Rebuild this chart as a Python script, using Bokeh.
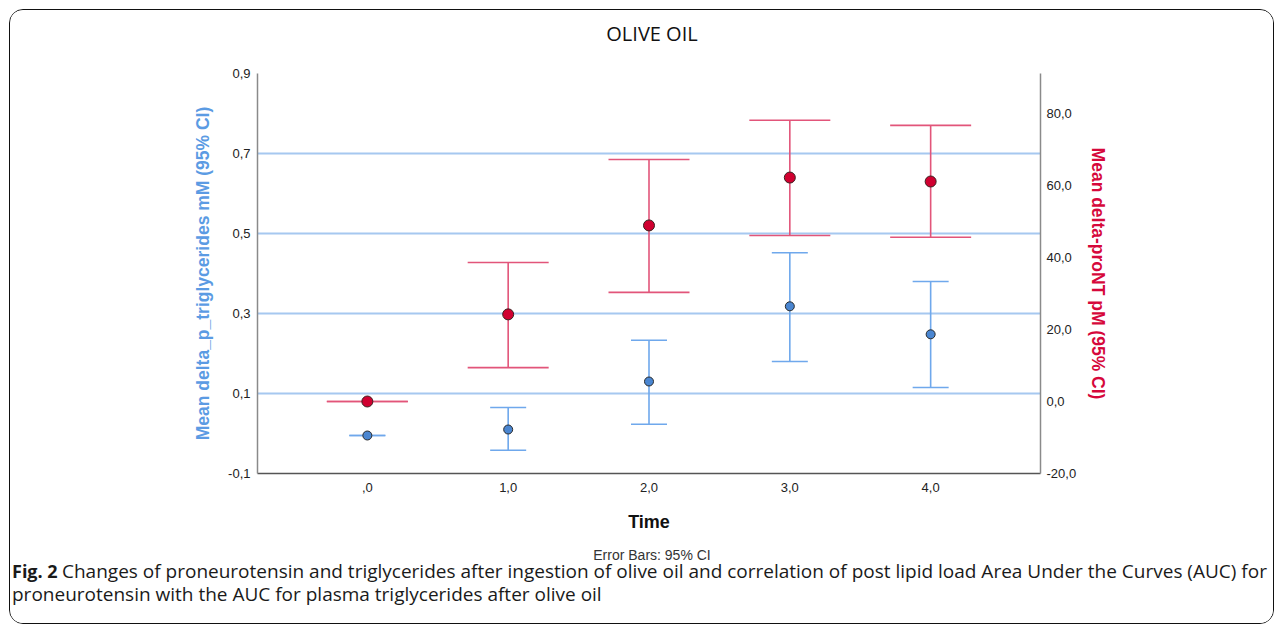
from bokeh.plotting import figure
from bokeh.models import (Range1d, LinearAxis, FixedTicker, CustomJSTickFormatter,
                          Whisker, ColumnDataSource, TeeHead)
from bokeh.layouts import column
from bokeh.core.properties import value
from bokeh.embed import file_html
from bokeh.resources import INLINE

# ---- data ----
time = [0, 1, 2, 3, 4]
time_labels = [",0", "1,0", "2,0", "3,0", "4,0"]

tg_mean = [-0.005, 0.010, 0.130, 0.318, 0.248]
tg_lower = [-0.005, -0.042, 0.023, 0.180, 0.115]
tg_upper = [-0.005, 0.065, 0.233, 0.452, 0.380]

pront_mean = [0.0, 24.2, 48.9, 62.2, 61.1]
pront_lower = [0.0, 9.4, 30.3, 46.1, 45.6]
pront_upper = [0.0, 38.6, 67.2, 78.1, 76.7]

left_ticks = [-0.1, 0.1, 0.3, 0.5, 0.7, 0.9]
right_ticks = [-20, 0, 20, 40, 60, 80]

title_text = "OLIVE OIL"
x_title = "Time"
left_title = "Mean delta_p_triglycerides mM (95% CI)"
right_title = "Mean delta-proNT pM (95% CI)"
note_text = "Error Bars: 95% CI"
caption_bold = "Fig. 2"
caption_line1 = ("Changes of proneurotensin and triglycerides after ingestion of olive oil and "
                 "correlation of post lipid load Area Under the Curves (AUC) for")
caption_line2 = "proneurotensin with the AUC for plasma triglycerides after olive oil"

BLUE = "#5B9BE3"
BLUE_BAR = "#6FA8EC"
BLUE_PT = "#4A86D1"
RED = "#D6083B"
RED_BAR = "#E2557A"
RED_PT = "#D00030"
GRID = "#A6C8F0"

TOTAL_W = 1263
HEAD_H = 50
FL, FT = 247, 13
FW, FH = 783, 400
FR = TOTAL_W - FL - FW
P_H = 474
FB = P_H - FT - FH
CAP_H = 89


def text_panel(height):
    f = figure(width=TOTAL_W, height=height, x_range=Range1d(0, TOTAL_W), y_range=Range1d(height, 0),
               x_axis_location=None, y_axis_location=None, min_border=0,
               frame_width=TOTAL_W, frame_height=height, frame_align=False,
               output_backend="svg", toolbar_location=None)
    f.grid.visible = False
    f.outline_line_color = None
    f.background_fill_color = "white"
    f.border_fill_color = "white"
    return f


# header with the chart title
head = text_panel(HEAD_H)
head.text(x=[641.5], y=[22.5], text=[title_text], text_align="center", text_baseline="middle",
          text_font=value("Open Sans"), text_font_size="20px", text_color="#111111")

p = figure(width=TOTAL_W, height=P_H,
           frame_width=FW, frame_height=FH,
           min_border_left=FL, min_border_right=FR, min_border_top=FT, min_border_bottom=FB,
           x_range=Range1d(-0.78, 4.78), y_range=Range1d(-0.1, 0.9),
           output_backend="svg", toolbar_location=None, frame_align=False)
p.extra_y_ranges = {"right": Range1d(-20, 91.1)}
p.outline_line_color = None
p.background_fill_color = "white"
p.border_fill_color = "white"

fmt = CustomJSTickFormatter(code="return tick.toFixed(1).replace('.', ',')")

# grid
p.xgrid.visible = False
p.ygrid.ticker = FixedTicker(ticks=left_ticks)
p.ygrid.grid_line_color = GRID
p.ygrid.grid_line_width = 1.8


def style_axis(ax, standoff):
    ax.major_tick_line_color = None
    ax.minor_tick_line_color = None
    ax.major_tick_out = 0
    ax.major_tick_in = 0
    ax.major_label_standoff = standoff
    ax.major_label_text_font = "Liberation Sans"
    ax.major_label_text_font_size = "13px"
    ax.major_label_text_color = "#222222"
    ax.axis_label_text_font = "Liberation Sans"
    ax.axis_label_text_font_style = "bold"


# x axis
xa = p.xaxis[0]
xa.ticker = FixedTicker(ticks=time)
xa.major_label_overrides = dict(zip(time, time_labels))
style_axis(xa, 9)
xa.axis_line_color = "#555555"
xa.axis_line_width = 1.5
xa.axis_label = x_title
xa.axis_label_text_font_size = "18px"
xa.axis_label_text_color = "#111111"
xa.axis_label_standoff = 17

# left axis
ya = p.yaxis[0]
ya.ticker = FixedTicker(ticks=left_ticks)
ya.formatter = fmt
style_axis(ya, 7)
ya.axis_line_color = "#8A8A8A"
ya.axis_line_width = 1.5
ya.axis_label = left_title
ya.axis_label_text_font_size = "17.5px"
ya.axis_label_text_color = BLUE
ya.axis_label_standoff = 12

# right axis
ra = LinearAxis(y_range_name="right", ticker=FixedTicker(ticks=right_ticks), formatter=fmt)
style_axis(ra, 6)
ra.axis_line_color = "#8A8A8A"
ra.axis_line_width = 1.5
ra.axis_label = right_title
ra.axis_label_text_font_size = "17.5px"
ra.axis_label_text_color = RED
ra.axis_label_standoff = 9
p.add_layout(ra, "right")

# error bars
src_tg = ColumnDataSource(dict(x=time, m=tg_mean, lo=tg_lower, hi=tg_upper))
src_pn = ColumnDataSource(dict(x=time, m=pront_mean, lo=pront_lower, hi=pront_upper))

w_tg = Whisker(source=src_tg, base="x", lower="lo", upper="hi",
               line_color=BLUE_BAR, line_width=1.6,
               upper_head=TeeHead(size=36, line_color=BLUE_BAR, line_width=1.6),
               lower_head=TeeHead(size=36, line_color=BLUE_BAR, line_width=1.6))
w_pn = Whisker(source=src_pn, base="x", lower="lo", upper="hi", y_range_name="right",
               line_color=RED_BAR, line_width=1.6,
               upper_head=TeeHead(size=81, line_color=RED_BAR, line_width=1.6),
               lower_head=TeeHead(size=81, line_color=RED_BAR, line_width=1.6))
p.add_layout(w_tg)
p.add_layout(w_pn)

p.scatter("x", "m", source=src_tg, size=9, fill_color=BLUE_PT, line_color="#2B2B2B", line_width=1)
p.scatter("x", "m", source=src_pn, size=11, fill_color=RED_PT, line_color="#3A2020", line_width=1,
          y_range_name="right")

# caption area
cap = text_panel(CAP_H)
cap.text(x=[641.5], y=[20.5], text=[note_text], text_align="center", text_baseline="middle",
         text_font=value("Liberation Sans"), text_font_size="14px", text_color="#333333")
cap.text(x=[1.5], y=[36.5], text=[caption_bold], text_align="left", text_baseline="middle",
         text_font=value("Open Sans"), text_font_style="bold", text_font_size="18px",
         text_color="#1a1a1a")
cap.text(x=[51.5], y=[36.5], text=[caption_line1], text_align="left", text_baseline="middle",
         text_font=value("Open Sans"), text_font_size="19px", text_color="#1a1a1a")
cap.text(x=[1.5], y=[59.5], text=[caption_line2], text_align="left", text_baseline="middle",
         text_font=value("Open Sans"), text_font_size="19px", text_color="#1a1a1a")

lay = column(head, p, cap, spacing=0,
             styles={"border": "1.5px solid #111", "border-radius": "14px",
                     "margin": "9px 0 0 9px", "overflow": "hidden", "background": "white"})

open("out.html", "w").write(file_html(lay, INLINE))
